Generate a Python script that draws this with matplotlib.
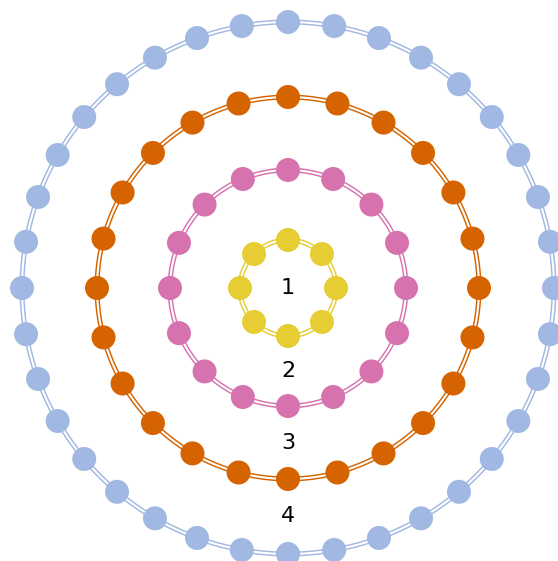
import numpy as np
import matplotlib
matplotlib.use("Agg")
import matplotlib.pyplot as plt
from matplotlib.patches import Circle

# Data
ring_labels = ["1", "2", "3", "4"]
ring_sizes = [8, 16, 24, 36]
ring_radii = [48, 118, 191, 266]
ring_colors = ["#E5CD33", "#D672AD", "#D56400", "#A0B8E2"]

W, H = 558, 561
cx, cy = 288, 288
node_r = 12

fig = plt.figure(figsize=(W / 100, H / 100), dpi=100)
ax = fig.add_axes([0, 0, 1, 1])
ax.set_xlim(0, W)
ax.set_ylim(H, 0)
ax.set_aspect("equal")
ax.axis("off")

for n, r, col in zip(ring_sizes, ring_radii, ring_colors):
    # edges as gentle arcs along the ring
    t = np.linspace(0, 2 * np.pi, 721)
    ax.plot(cx + r * np.cos(t), cy - r * np.sin(t), color=col, lw=3.6, zorder=1)
    ax.plot(cx + r * np.cos(t), cy - r * np.sin(t), color="white", lw=1.5, zorder=2)
    ang = np.pi / 2 + 2 * np.pi * np.arange(n) / n
    xs = cx + r * np.cos(ang)
    ys = cy - r * np.sin(ang)
    for x, y in zip(xs, ys):
        ax.add_patch(Circle((x, y), node_r, facecolor=col, edgecolor="none", zorder=3))

# labels: first at center, others between rings
label_y = [cy] + [cy + (ring_radii[i - 1] + ring_radii[i]) / 2 for i in range(1, len(ring_radii))]
for lab, y in zip(ring_labels, label_y):
    ax.text(cx, y, lab, ha="center", va="center", fontsize=16, color="black",
            family="DejaVu Sans", zorder=4)

fig.savefig("out.png", dpi=100)
